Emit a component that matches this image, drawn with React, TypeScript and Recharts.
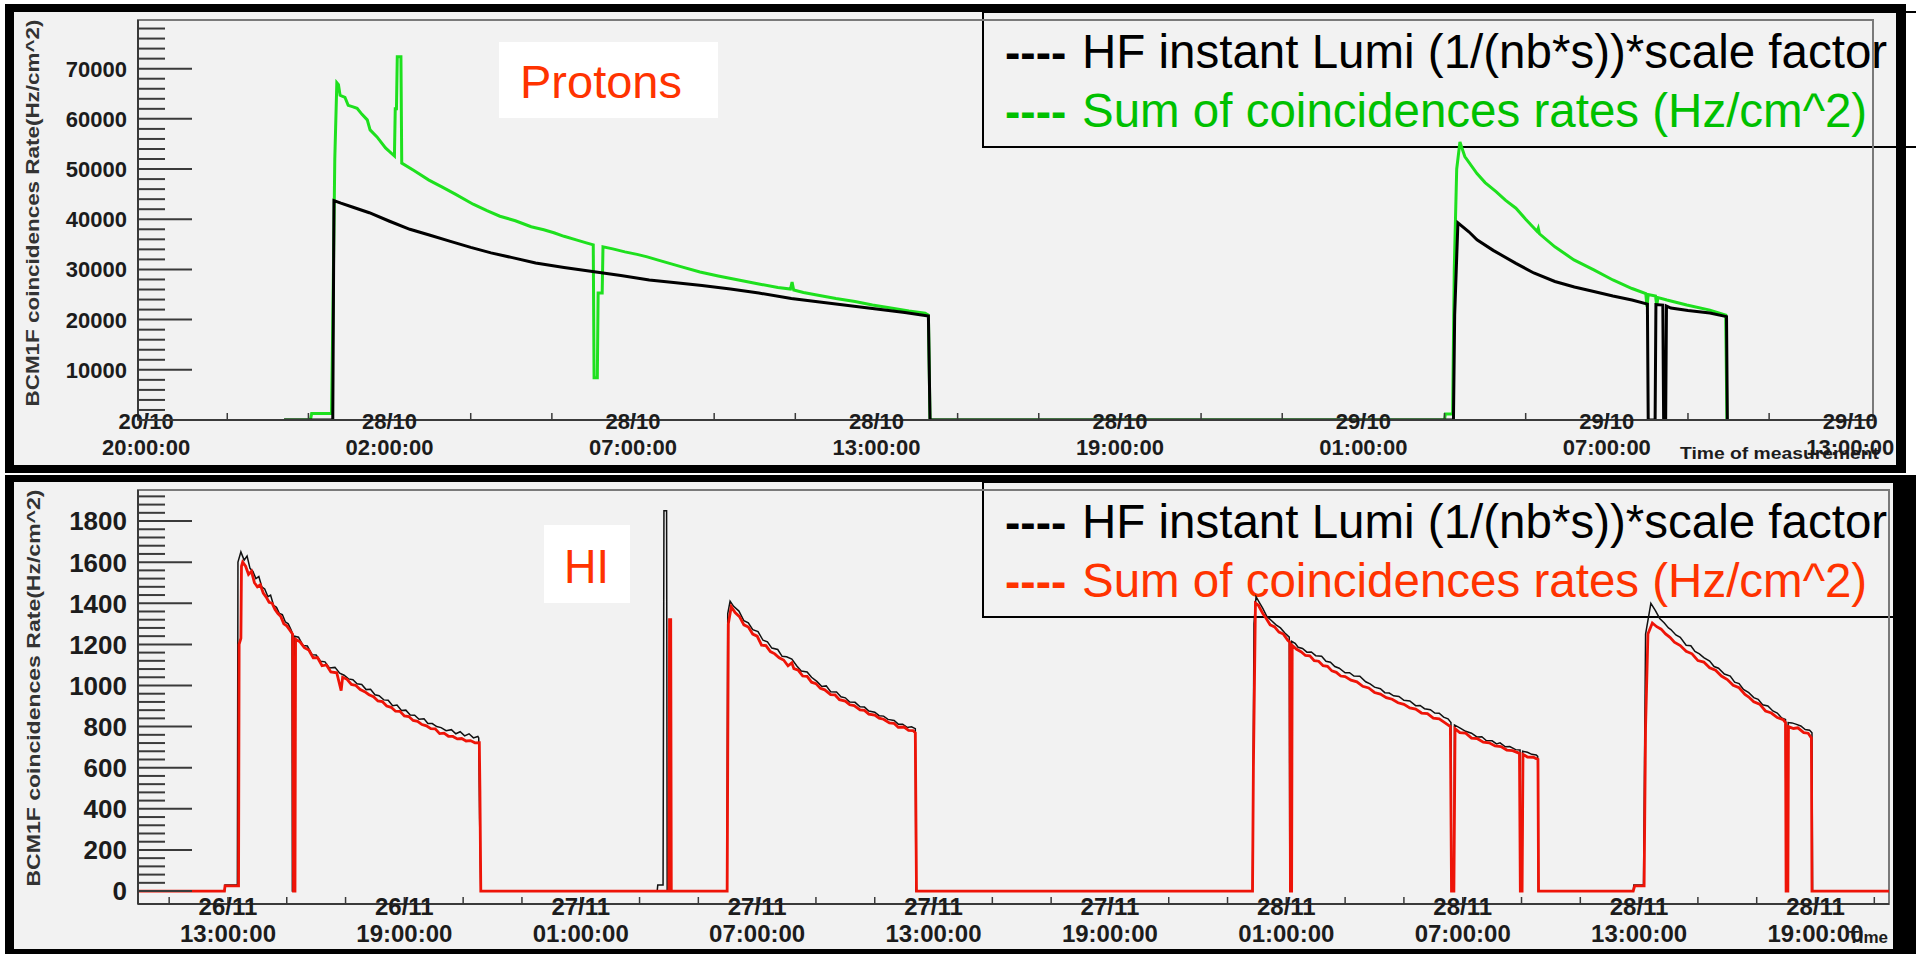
import { LineChart, Line, XAxis, YAxis, ReferenceArea } from "recharts";

type Pt = [number, number];

// x values are hours: top panel from 27/10 20:00, bottom panel from 26/11 13:00
const protonDates = ["20/10", "28/10", "28/10", "28/10", "28/10", "29/10", "29/10", "29/10"];
const protonTimes = ["20:00:00", "02:00:00", "07:00:00", "13:00:00", "19:00:00", "01:00:00", "07:00:00", "13:00:00"];
const ionDates = ["26/11", "26/11", "27/11", "27/11", "27/11", "27/11", "28/11", "28/11", "28/11", "28/11"];
const ionTimes = ["13:00:00", "19:00:00", "01:00:00", "07:00:00", "13:00:00", "19:00:00", "01:00:00", "07:00:00", "13:00:00", "19:00:00"];

// HF instant lumi (black), protons
const protonHf: Pt[] = [
  [3.4, 0], [4.6, 0], [4.63, 43700], [4.8, 43200], [5.1, 42400], [5.5, 41300], [6.0, 39600],
  [6.5, 38000], [7.0, 36800], [7.5, 35600], [8.0, 34400], [8.5, 33300], [9.0, 32400], [9.6, 31300],
  [10.3, 30400], [11.0, 29600], [11.7, 28800], [12.4, 27900], [13.0, 27400], [13.7, 26800],
  [14.4, 26100], [15.1, 25300], [15.9, 24200], [16.6, 23500], [17.3, 22800], [18.0, 22100],
  [18.7, 21400], [19.28, 20700], [19.32, 0], [32.22, 0], [32.25, 21000], [32.33, 39300],
  [32.6, 37500], [32.8, 35900], [33.2, 33800], [33.76, 31200], [34.2, 29300], [34.72, 27600],
  [35.2, 26500], [35.68, 25600], [36.15, 24700], [36.62, 23900], [37.0, 23100], [37.02, 0],
  [37.19, 0], [37.21, 23000], [37.38, 22900], [37.4, 0], [37.45, 0], [37.47, 22700],
  [37.58, 22300], [38.0, 21800], [38.54, 21300], [38.95, 20600], [38.97, 0],
];

// sum of coincidence rates (green), protons
const protonSum: Pt[] = [
  [3.4, 0], [4.05, 0], [4.08, 1300], [4.57, 1300], [4.6, 19000], [4.65, 52000], [4.7, 67200],
  [4.74, 66800], [4.78, 64700], [4.9, 64300], [4.98, 62700], [5.1, 62400], [5.2, 62100],
  [5.32, 60900], [5.45, 59800], [5.52, 57800], [5.69, 56400], [5.9, 54200], [6.12, 52600],
  [6.14, 62000], [6.17, 62000], [6.19, 72400], [6.28, 72400], [6.3, 51200], [6.6, 49700],
  [6.97, 47800], [7.3, 46400], [7.62, 45000], [8.06, 43000], [8.4, 41700], [8.72, 40600],
  [9.1, 39700], [9.49, 38500], [9.8, 37900], [10.05, 37300], [10.3, 36600], [10.6, 35900],
  [10.85, 35300], [11.02, 34900], [11.04, 8400], [11.12, 8400], [11.14, 25300], [11.24, 25300],
  [11.26, 34500], [11.5, 34100], [11.8, 33500], [12.1, 33000], [12.35, 32500], [12.6, 31900],
  [12.9, 31200], [13.2, 30500], [13.65, 29500], [14.1, 28700], [14.6, 27900], [15.1, 27100],
  [15.57, 26400], [15.88, 26100], [15.92, 27500], [15.96, 25900], [16.2, 25400], [16.53, 24900],
  [17.0, 24200], [17.47, 23600], [17.9, 22900], [18.43, 22200], [18.8, 21700], [19.2, 21300],
  [19.28, 20900], [19.32, 0], [32.0, 0], [32.02, 1200], [32.2, 1200], [32.24, 30000],
  [32.3, 50000], [32.38, 55400], [32.5, 52500], [32.8, 49100], [33.0, 47300], [33.27, 45500],
  [33.5, 43800], [33.76, 42200], [34.0, 40000], [34.28, 37600], [34.31, 38200], [34.34, 37100],
  [34.72, 34500], [35.19, 31900], [35.68, 29900], [36.15, 27900], [36.62, 26200], [36.96, 25200],
  [36.99, 22600], [37.02, 25000], [37.2, 24700], [37.23, 22800], [37.26, 24400], [37.48, 23900],
  [37.97, 22900], [38.54, 21900], [38.93, 20900], [38.96, 0],
];

// HF instant lumi (black), heavy ions
const ionHf: Pt[] = [
  [-3.06, 0], [-0.12, 0], [-0.1, 30], [0.32, 30], [0.34, 1600], [0.44, 1650], [0.55, 1610],
  [0.65, 1630], [0.75, 1570], [0.85, 1555], [0.95, 1520], [1.05, 1530], [1.15, 1480], [1.25, 1470],
  [1.36, 1432], [1.45, 1440], [1.55, 1390], [1.65, 1380], [1.75, 1350], [1.85, 1345], [1.95, 1310],
  [2.05, 1300], [2.15, 1270], [2.18, 1258], [2.19, 0], [2.26, 0], [2.27, 1240], [2.4, 1235],
  [2.55, 1195], [2.7, 1192], [2.86, 1150], [3.0, 1148], [3.15, 1118], [3.3, 1115], [3.45, 1085],
  [3.64, 1088], [3.8, 1060], [3.95, 1050], [4.1, 1032], [4.25, 1028], [4.39, 1008], [4.55, 1005],
  [4.7, 980], [4.85, 982], [5.0, 955], [5.14, 950], [5.3, 930], [5.45, 928], [5.6, 902], [5.75, 905],
  [5.9, 878], [6.05, 880], [6.2, 856], [6.35, 855], [6.5, 836], [6.67, 838], [6.8, 815], [6.95, 815],
  [7.1, 800], [7.25, 795], [7.42, 780], [7.6, 785], [7.75, 765], [7.9, 775], [8.05, 755], [8.2, 765],
  [8.35, 745], [8.5, 752], [8.53, 745], [8.56, 350], [8.6, 0], [14.6, 0], [14.62, 30], [14.8, 30],
  [14.83, 1850], [14.92, 1850], [14.94, 0], [16.97, 0], [17.0, 1350], [17.08, 1410], [17.2, 1385],
  [17.38, 1362], [17.55, 1315], [17.7, 1305], [17.85, 1272], [18.03, 1262], [18.2, 1220],
  [18.35, 1212], [18.5, 1182], [18.7, 1175], [18.85, 1142], [19.0, 1140], [19.18, 1128],
  [19.35, 1095], [19.5, 1070], [19.7, 1066], [19.85, 1040], [20.03, 1020], [20.2, 995],
  [20.35, 998], [20.5, 970], [20.7, 968], [20.85, 945], [21.0, 940], [21.15, 920], [21.33, 918],
  [21.5, 896], [21.65, 895], [21.8, 876], [22.0, 870], [22.15, 853], [22.3, 851], [22.45, 835],
  [22.66, 830], [22.8, 812], [22.95, 812], [23.1, 796], [23.25, 799], [23.38, 790], [23.4, 0],
  [34.85, 0], [34.9, 1300], [34.97, 1432], [35.1, 1400], [35.2, 1375], [35.34, 1335], [35.5, 1315],
  [35.65, 1295], [35.8, 1280], [35.95, 1255], [36.1, 1235], [36.12, 0], [36.16, 0], [36.18, 1215],
  [36.3, 1205], [36.4, 1186], [36.55, 1180], [36.7, 1162], [36.85, 1163], [37.0, 1145],
  [37.2, 1142], [37.35, 1118], [37.5, 1113], [37.65, 1092], [37.8, 1084], [38.0, 1062],
  [38.15, 1062], [38.3, 1046], [38.5, 1045], [38.7, 1018], [38.85, 1008], [39.0, 992], [39.2, 984],
  [39.35, 965], [39.5, 963], [39.65, 950], [39.83, 947], [40.0, 928], [40.2, 925], [40.4, 902],
  [40.55, 903], [40.7, 887], [40.9, 882], [41.05, 866], [41.2, 865], [41.35, 846], [41.5, 838],
  [41.6, 820], [41.62, 0], [41.7, 0], [41.72, 808], [41.9, 794], [42.1, 777], [42.3, 768],
  [42.48, 750], [42.65, 751], [42.8, 732], [43.0, 731], [43.15, 716], [43.27, 721], [43.45, 702],
  [43.6, 703], [43.8, 688], [43.95, 686], [43.97, 0], [44.02, 0], [44.04, 680], [44.2, 675],
  [44.35, 665], [44.5, 662], [44.55, 655], [44.57, 0], [47.8, 0], [47.82, 30], [48.15, 30],
  [48.22, 1250], [48.4, 1400], [48.55, 1365], [48.7, 1326], [48.85, 1305], [49.0, 1280],
  [49.08, 1272], [49.25, 1246], [49.4, 1234], [49.6, 1196], [49.76, 1193], [49.9, 1166],
  [50.05, 1154], [50.2, 1136], [50.4, 1119], [50.55, 1092], [50.7, 1084], [50.9, 1056],
  [51.1, 1046], [51.25, 1016], [51.4, 1009], [51.55, 981], [51.73, 965], [51.9, 941], [52.05, 933],
  [52.2, 906], [52.38, 900], [52.55, 876], [52.7, 866], [52.85, 842], [52.98, 835], [53.0, 0],
  [53.05, 0], [53.07, 820], [53.2, 818], [53.33, 812], [53.5, 803], [53.65, 786], [53.8, 782],
  [53.88, 770], [53.9, 0], [56.5, 0],
];

// sum of coincidence rates (red), heavy ions
const ionSum: Pt[] = [
  [-3.06, 0], [-0.12, 0], [-0.1, 25], [0.36, 25], [0.38, 1200], [0.44, 1230], [0.46, 1580],
  [0.5, 1600], [0.6, 1580], [0.7, 1540], [0.8, 1555], [0.9, 1500], [1.0, 1480], [1.1, 1490],
  [1.2, 1450], [1.3, 1430], [1.4, 1405], [1.5, 1400], [1.6, 1370], [1.7, 1350], [1.8, 1335],
  [1.9, 1300], [2.0, 1290], [2.1, 1270], [2.2, 1250], [2.23, 0], [2.28, 0], [2.3, 1225],
  [2.45, 1212], [2.6, 1184], [2.75, 1172], [2.9, 1135], [3.05, 1135], [3.2, 1096], [3.35, 1100],
  [3.5, 1066], [3.7, 1062], [3.85, 975], [3.9, 1040], [4.05, 1030], [4.2, 1005], [4.35, 1000],
  [4.5, 980], [4.65, 970], [4.8, 955], [4.95, 945], [5.1, 925], [5.25, 922], [5.4, 900], [5.55, 894],
  [5.7, 875], [5.85, 874], [6.0, 852], [6.15, 849], [6.3, 830], [6.45, 826], [6.6, 810], [6.75, 804],
  [6.9, 790], [7.05, 789], [7.2, 766], [7.35, 768], [7.5, 753], [7.65, 752], [7.8, 740], [7.95, 742],
  [8.1, 730], [8.25, 732], [8.4, 721], [8.55, 722], [8.57, 500], [8.6, 0], [15.0, 0], [15.02, 1320],
  [15.06, 1320], [15.08, 0], [16.98, 0], [17.02, 1300], [17.12, 1383], [17.25, 1355], [17.4, 1335],
  [17.55, 1295], [17.7, 1284], [17.85, 1250], [18.0, 1240], [18.15, 1196], [18.3, 1194],
  [18.45, 1165], [18.6, 1154], [18.75, 1135], [18.9, 1124], [19.05, 1096], [19.18, 1110],
  [19.25, 1082], [19.4, 1074], [19.55, 1046], [19.7, 1044], [19.85, 1016], [20.0, 1009],
  [20.15, 986], [20.3, 979], [20.5, 956], [20.65, 954], [20.8, 931], [21.0, 924], [21.15, 906],
  [21.3, 902], [21.5, 881], [21.65, 879], [21.8, 861], [22.0, 856], [22.15, 841], [22.3, 836],
  [22.5, 818], [22.65, 816], [22.8, 797], [23.0, 798], [23.15, 782], [23.3, 781], [23.38, 770],
  [23.42, 0], [34.85, 0], [34.88, 600], [34.95, 1400], [35.05, 1390], [35.2, 1350], [35.3, 1330],
  [35.45, 1295], [35.6, 1285], [35.75, 1260], [35.9, 1250], [36.05, 1220], [36.12, 1210],
  [36.14, 0], [36.18, 0], [36.2, 1195], [36.35, 1176], [36.5, 1164], [36.65, 1146], [36.8, 1144],
  [36.95, 1121], [37.1, 1118], [37.25, 1096], [37.4, 1093], [37.55, 1071], [37.7, 1064],
  [37.85, 1046], [38.0, 1043], [38.2, 1026], [38.4, 1018], [38.6, 996], [38.8, 988], [39.0, 966],
  [39.2, 958], [39.4, 941], [39.6, 933], [39.8, 916], [40.0, 908], [40.2, 891], [40.4, 885],
  [40.6, 866], [40.8, 863], [41.0, 841], [41.2, 838], [41.4, 818], [41.58, 800], [41.62, 0],
  [41.7, 0], [41.74, 790], [41.9, 771], [42.1, 768], [42.3, 744], [42.5, 741], [42.7, 724],
  [42.9, 721], [43.1, 706], [43.3, 703], [43.5, 686], [43.7, 683], [43.93, 670], [43.96, 0],
  [44.02, 0], [44.05, 665], [44.2, 652], [44.4, 651], [44.56, 640], [44.58, 0], [47.8, 0],
  [47.85, 25], [48.17, 25], [48.22, 800], [48.3, 1250], [48.45, 1304], [48.6, 1286], [48.75, 1274],
  [48.9, 1251], [49.05, 1234], [49.2, 1211], [49.4, 1194], [49.6, 1166], [49.8, 1154], [50.0, 1121],
  [50.2, 1114], [50.4, 1086], [50.6, 1074], [50.8, 1046], [51.0, 1029], [51.2, 1001], [51.4, 989],
  [51.6, 956], [51.73, 944], [51.9, 921], [52.1, 909], [52.3, 876], [52.5, 866], [52.7, 844],
  [52.9, 834], [52.98, 820], [53.0, 0], [53.06, 0], [53.08, 800], [53.25, 791], [53.4, 794],
  [53.6, 771], [53.75, 768], [53.86, 745], [53.88, 0], [56.5, 0],
];

const FONT = "'Liberation Sans', Arial, Helvetica, sans-serif";
const INK = "#1c1c1c";
const PAD = "#f2f2f2";
const GREEN = "#1ee01e";
const RED = "#ee1408";

const toRows = (pts: Pt[]) => pts.map(([t, v]) => ({ t, v }));

const steps = (from: number, to: number, step: number) => {
  const out: number[] = [];
  for (let v = from; v <= to + 1e-9; v += step) out.push(v);
  return out;
};

const makeYTick = (major: number, fontSize: number, showZero: boolean) => (props: any) => {
  const { x, y, payload } = props;
  const v = payload.value;
  const isMajor = v % major === 0;
  return (
    <g>
      <line x1={x} x2={x + (isMajor ? 54 : 27)} y1={y} y2={y} stroke="#3a3a3a" strokeWidth={2} />
      {isMajor && (v !== 0 || showZero) && (
        <text x={x - 11} y={y} dy="0.36em" textAnchor="end" fontFamily={FONT} fontWeight="bold" fontSize={fontSize} fill={INK}>
          {v}
        </text>
      )}
    </g>
  );
};

const makeXTick = (dates: string[], times: string[], fontSize: number, dateDy: number, timeDy: number) => (props: any) => {
  const { x, y, payload } = props;
  const v = payload.value;
  const i = v / 6;
  const labelled = Number.isInteger(i) && i >= 0 && i < dates.length;
  return (
    <g>
      <line x1={x} x2={x} y1={y} y2={y - 7} stroke="#3a3a3a" strokeWidth={1.5} />
      {labelled && (
        <>
          <text x={x} y={y + dateDy} textAnchor="middle" fontFamily={FONT} fontWeight="bold" fontSize={fontSize} fill={INK}>
            {dates[i]}
          </text>
          <text x={x} y={y + timeDy} textAnchor="middle" fontFamily={FONT} fontWeight="bold" fontSize={fontSize} fill={INK}>
            {times[i]}
          </text>
        </>
      )}
    </g>
  );
};

const TOP_X: [number, number] = [-0.2, 42.56];
const TOP_Y: [number, number] = [0, 79700];
const BOT_X: [number, number] = [-3.06, 56.5];
const BOT_Y: [number, number] = [-63, 1951];

const ProtonChart = () => (
  <LineChart width={1916} height={475} margin={{ top: 20, right: 43, bottom: 0, left: 38 }}>
    <ReferenceArea x1={TOP_X[0]} x2={TOP_X[1]} y1={TOP_Y[0]} y2={TOP_Y[1]} fill="none" stroke="#7a7a7a" strokeWidth={2} />
    <XAxis
      type="number"
      dataKey="t"
      domain={TOP_X}
      allowDataOverflow
      ticks={steps(0, 42, 2)}
      interval={0}
      height={55}
      tickSize={0}
      tickMargin={0}
      tickLine={false}
      axisLine={{ stroke: "#3a3a3a", strokeWidth: 2 }}
      tick={makeXTick(protonDates, protonTimes, 22, 9, 35)}
    />
    <YAxis
      type="number"
      domain={TOP_Y}
      allowDataOverflow
      ticks={steps(0, 78000, 2000)}
      interval={0}
      width={100}
      tickSize={0}
      tickMargin={0}
      tickLine={false}
      axisLine={{ stroke: "#3a3a3a", strokeWidth: 2 }}
      tick={makeYTick(10000, 22, false)}
    />
    <Line data={toRows(protonSum)} dataKey="v" type="linear" stroke={GREEN} strokeWidth={3} dot={false} activeDot={false} isAnimationActive={false} />
    <Line data={toRows(protonHf)} dataKey="v" type="linear" stroke="#000" strokeWidth={3} dot={false} activeDot={false} isAnimationActive={false} />
  </LineChart>
);

const IonChart = () => (
  <LineChart width={1916} height={484} margin={{ top: 20, right: 27, bottom: 0, left: 38 }}>
    <ReferenceArea x1={BOT_X[0]} x2={BOT_X[1]} y1={BOT_Y[0]} y2={BOT_Y[1]} fill="none" stroke="#7a7a7a" strokeWidth={2} />
    <XAxis
      type="number"
      dataKey="t"
      domain={BOT_X}
      allowDataOverflow
      ticks={steps(-2, 56, 2)}
      interval={0}
      height={50}
      tickSize={0}
      tickMargin={0}
      tickLine={false}
      axisLine={{ stroke: "#3a3a3a", strokeWidth: 2 }}
      tick={makeXTick(ionDates, ionTimes, 24, 10.5, 37.5)}
    />
    <YAxis
      type="number"
      domain={BOT_Y}
      allowDataOverflow
      ticks={steps(0, 1920, 40)}
      interval={0}
      width={100}
      tickSize={0}
      tickMargin={0}
      tickLine={false}
      axisLine={{ stroke: "#3a3a3a", strokeWidth: 2 }}
      tick={makeYTick(200, 26, true)}
    />
    <Line data={toRows(ionHf)} dataKey="v" type="linear" stroke="#111" strokeWidth={1.5} dot={false} activeDot={false} isAnimationActive={false} />
    <Line data={toRows(ionSum)} dataKey="v" type="linear" stroke={RED} strokeWidth={2.8} dot={false} activeDot={false} isAnimationActive={false} />
  </LineChart>
);

const Legend = ({ top, color, label }: { top: number; color: string; label: string }) => (
  <g>
    <rect x={983} y={top} width={980} height={135} fill="none" stroke="#000" strokeWidth={2} />
    <text x={1005} y={top + 56} fontFamily={FONT} fontWeight="bold" fontSize={46} fill="#000">----</text>
    <text x={1082} y={top + 56} fontFamily={FONT} fontSize={47.5} fill="#000">HF instant Lumi (1/(nb*s))*scale factor</text>
    <text x={1005} y={top + 115} fontFamily={FONT} fontWeight="bold" fontSize={46} fill={color}>----</text>
    <text x={1082} y={top + 115} fontFamily={FONT} fontSize={47.5} fill={color}>{label}</text>
  </g>
);

const axisTitle = "BCM1F coincidences Rate(Hz/cm^2)";

export default function App() {
  return (
    <div style={{ position: "absolute", left: 0, top: 0, width: 1916, height: 954, background: "#fff", overflow: "hidden" }}>
      <div style={{ position: "absolute", left: 5, top: 4, width: 1901, height: 469, background: "#000" }} />
      <div style={{ position: "absolute", left: 14, top: 12, width: 1882, height: 453, background: PAD }} />
      <div style={{ position: "absolute", left: 5, top: 475, width: 1911, height: 479, background: "#000" }} />
      <div style={{ position: "absolute", left: 14, top: 482, width: 1879, height: 467, background: PAD }} />

      <svg width={1916} height={954} style={{ position: "absolute", left: 0, top: 0 }}>
        <rect x={499} y={42} width={219} height={76} fill="#fff" />
        <text x={520} y={98} fontFamily={FONT} fontSize={47} fill="#ff3300">Protons</text>
        <rect x={544} y={525} width={86} height={78} fill="#fff" />
        <text x={564} y={583} fontFamily={FONT} fontSize={48} fill="#ff3300" textLength={45} lengthAdjust="spacingAndGlyphs">HI</text>

        <Legend top={12} color="#00c000" label="Sum of coincidences rates (Hz/cm^2)" />
        <Legend top={482} color="#ff3300" label="Sum of coincidences rates (Hz/cm^2)" />

        <text x={33} y={213} transform="rotate(-90 33 213)" textAnchor="middle" dy="0.36em" fontFamily={FONT} fontWeight="bold" fontSize={18} fill="#333" textLength={387} lengthAdjust="spacingAndGlyphs">
          {axisTitle}
        </text>
        <text x={33} y={688} transform="rotate(-90 33 688)" textAnchor="middle" dy="0.36em" fontFamily={FONT} fontWeight="bold" fontSize={19} fill="#333" textLength={397} lengthAdjust="spacingAndGlyphs">
          {axisTitle}
        </text>

        <text x={1680} y={459} fontFamily={FONT} fontWeight="bold" fontSize={17} fill={INK} textLength={199} lengthAdjust="spacingAndGlyphs">Time of measurement</text>
        <text x={1888} y={943} textAnchor="end" fontFamily={FONT} fontWeight="bold" fontSize={17} fill={INK}>Time</text>
      </svg>

      <div style={{ position: "absolute", left: 0, top: 0 }}>
        <ProtonChart />
      </div>
      <div style={{ position: "absolute", left: 0, top: 470 }}>
        <IonChart />
      </div>
    </div>
  );
}
